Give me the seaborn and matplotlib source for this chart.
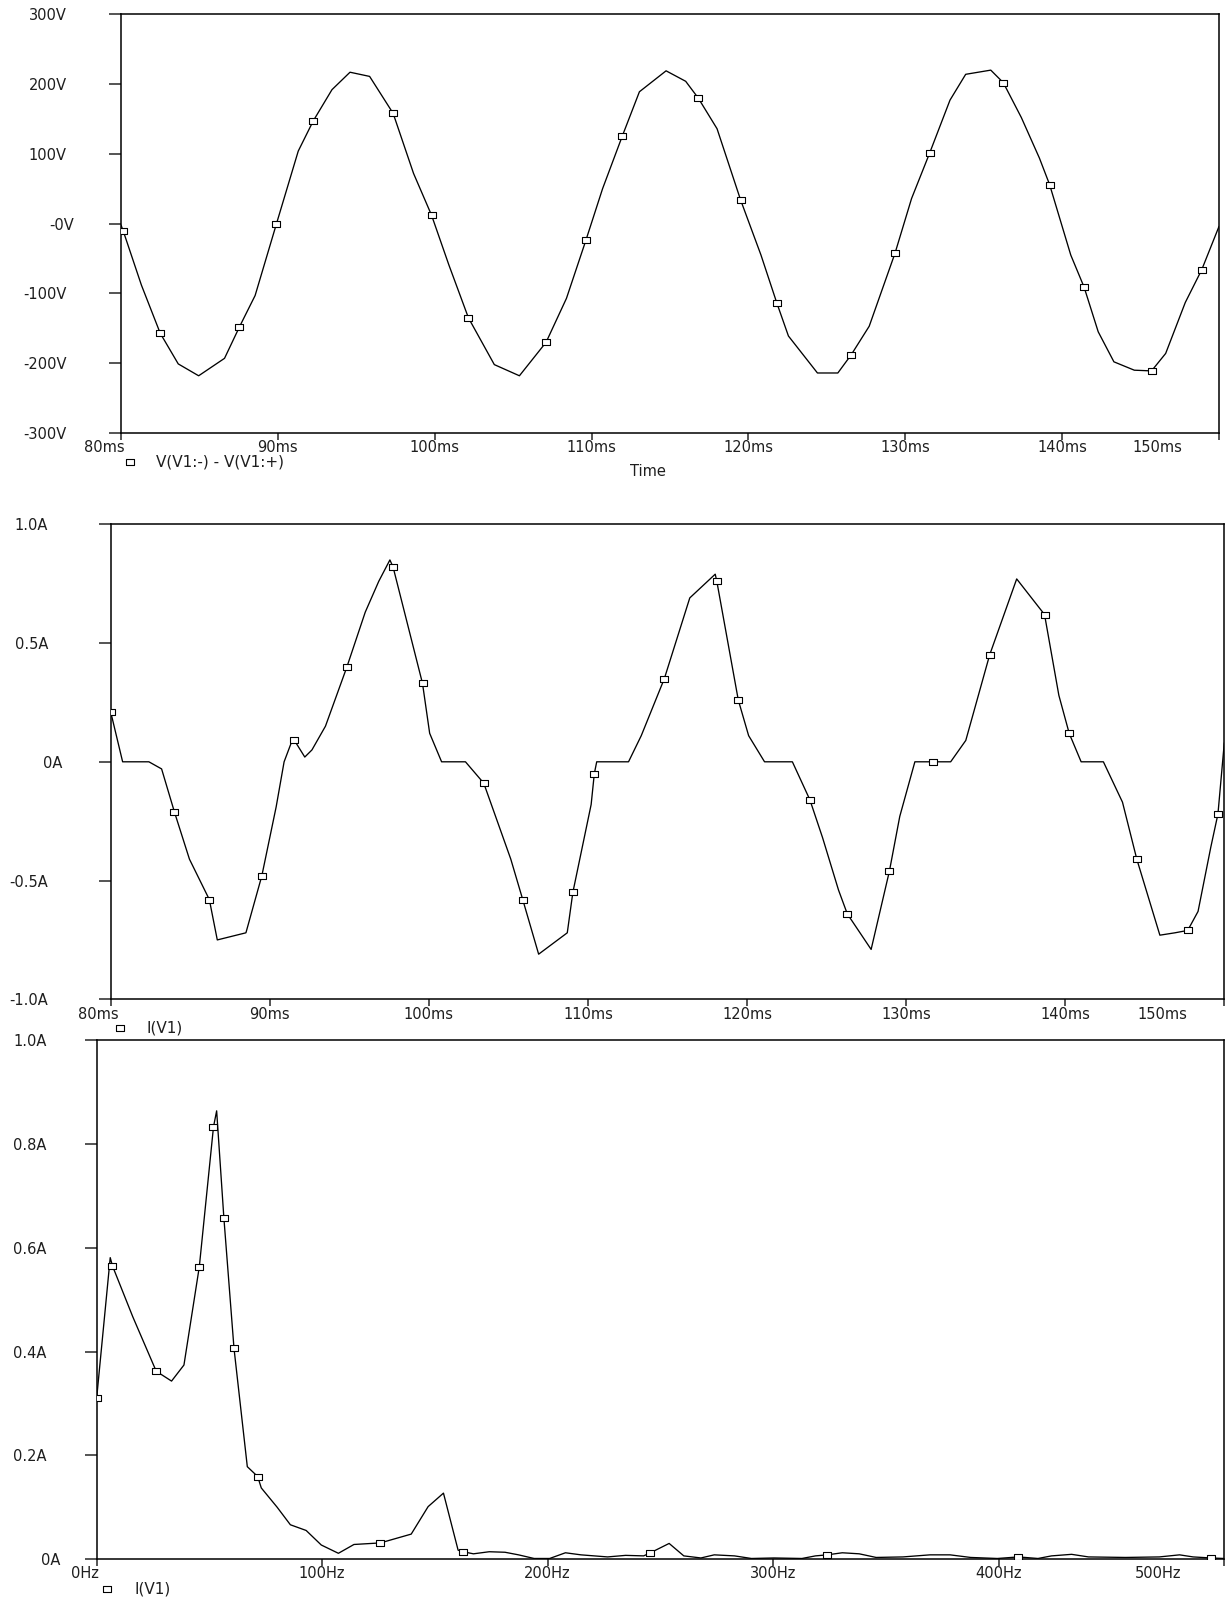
"""
PSpice-style transient and FFT traces for a single source V1:
source voltage, source current and the current spectrum.
"""

import matplotlib

matplotlib.use("Agg")
import matplotlib.pyplot as plt
import matplotlib.transforms as mtransforms
import pandas as pd
import seaborn as sns
from matplotlib.lines import Line2D

# --- V(V1:-) - V(V1:+) over time ---
volt_time_ms = [80.0, 80.15, 81.3, 82.5, 83.65, 84.95, 86.6, 87.55, 88.55, 89.9,
                91.3, 92.25, 93.45, 94.6, 95.85, 97.35, 98.65, 99.8, 100.9, 102.15,
                103.8, 105.4, 107.1, 108.4, 109.65, 110.7, 111.95, 113.05, 114.75, 116.0,
                116.8, 118.0, 119.5, 120.8, 121.8, 122.55, 124.4, 125.7, 126.55, 127.7,
                129.35, 130.4, 131.55, 132.85, 133.85, 135.45, 136.25, 137.4, 138.55, 139.2,
                140.55, 141.4, 142.3, 143.3, 144.6, 145.7, 146.6, 147.85, 148.9, 150.0]
volt_value_v = [-2, -11, -88, -157, -201, -218, -193, -148, -103, -1,
                104, 147, 192, 217, 211, 158, 72, 12, -59, -135,
                -202, -218, -170, -107, -23, 50, 125, 189, 219, 204,
                180, 136, 34, -45, -113, -161, -214, -214, -188, -147,
                -42, 36, 101, 177, 214, 220, 202, 152, 94, 56,
                -45, -91, -155, -198, -210, -211, -186, -113, -66, -4]
volt_marker_ms = [80.15, 82.5, 87.55, 89.9, 92.25, 97.35, 99.8, 102.15, 107.1, 109.65,
                  111.95, 116.8, 119.5, 121.8, 126.55, 129.35, 131.55, 136.25, 139.2,
                  141.4, 145.7, 148.9]

# --- I(V1) over time ---
curr_time_ms = [80.0, 80.75, 82.4, 83.2, 84.0, 84.95, 86.2, 86.7, 88.5, 89.5,
                90.4, 90.9, 91.35, 91.55, 92.2, 92.65, 93.5, 94.85, 96.0, 96.85,
                97.55, 97.75, 99.6, 100.05, 100.8, 102.3, 103.45, 105.15, 105.9, 106.9,
                108.7, 109.05, 110.2, 110.4, 110.55, 112.55, 113.35, 114.8, 116.4, 118.0,
                118.1, 119.45, 120.1, 121.1, 122.85, 123.95, 124.75, 125.75, 126.3, 127.8,
                128.95, 129.6, 130.55, 131.7, 132.8, 133.75, 135.25, 136.95, 138.7, 139.6,
                140.25, 141.0, 142.4, 143.6, 144.5, 145.95, 146.9, 147.7, 148.35, 149.15,
                149.6, 150.0]
curr_value_a = [0.21, 0.0, 0.0, -0.03, -0.21, -0.41, -0.58, -0.75, -0.72, -0.48,
                -0.19, 0.0, 0.08, 0.09, 0.02, 0.05, 0.15, 0.40, 0.63, 0.76,
                0.85, 0.82, 0.33, 0.12, 0.0, 0.0, -0.09, -0.41, -0.58, -0.81,
                -0.72, -0.55, -0.18, -0.05, 0.0, 0.0, 0.11, 0.35, 0.69, 0.79,
                0.76, 0.26, 0.11, 0.0, 0.0, -0.16, -0.32, -0.54, -0.64, -0.79,
                -0.46, -0.23, 0.0, 0.0, 0.0, 0.09, 0.45, 0.77, 0.62, 0.28,
                0.12, 0.0, 0.0, -0.17, -0.41, -0.73, -0.72, -0.71, -0.63, -0.36,
                -0.22, 0.08]
curr_marker_ms = [80.0, 84.0, 86.2, 89.5, 91.55, 94.85, 97.75, 99.6, 103.45, 105.9,
                  109.05, 110.4, 114.8, 118.1, 119.45, 123.95, 126.3, 128.95, 131.7,
                  135.25, 138.7, 140.25, 144.5, 147.7, 149.6]

# --- FFT of I(V1) ---
fft_freq_hz = [0.0, 6.0, 7.0, 16.0, 26.4, 33.2, 38.7, 45.5, 51.8, 53.2,
               56.4, 60.9, 66.8, 71.4, 73.0, 80.0, 85.9, 92.9, 99.6, 107.2,
               114.1, 125.8, 139.5, 147.0, 153.8, 160.3, 162.5, 167.1, 174.1, 181.1,
               187.1, 194.0, 200.9, 207.9, 214.8, 226.6, 234.6, 242.6, 245.6, 253.9,
               260.4, 268.0, 273.9, 282.9, 290.4, 300.4, 312.8, 318.8, 324.0, 330.7,
               338.2, 345.7, 357.6, 369.6, 378.5, 387.6, 399.5, 408.8, 417.5, 423.5,
               432.4, 439.9, 456.3, 471.3, 480.3, 486.3, 494.2, 500.0]
fft_mag_a = [0.311, 0.581, 0.565, 0.467, 0.362, 0.343, 0.374, 0.563, 0.833, 0.864,
             0.658, 0.406, 0.178, 0.159, 0.137, 0.100, 0.066, 0.055, 0.027, 0.011,
             0.028, 0.031, 0.048, 0.101, 0.127, 0.017, 0.014, 0.010, 0.014, 0.013,
             0.008, 0.001, 0.001, 0.012, 0.008, 0.004, 0.007, 0.006, 0.012, 0.030,
             0.006, 0.002, 0.008, 0.006, 0.001, 0.002, 0.001, 0.006, 0.008, 0.012,
             0.010, 0.003, 0.004, 0.008, 0.008, 0.003, 0.001, 0.004, 0.001, 0.006,
             0.009, 0.004, 0.003, 0.004, 0.008, 0.004, 0.002, 0.001]
fft_marker_hz = [0.0, 7.0, 26.4, 45.5, 51.8, 56.4, 60.9, 71.4, 125.8, 162.5,
                 245.6, 324.0, 408.8, 494.2]

# --- axis ticks ---
time_ticks = [80, 90, 100, 110, 120, 130, 140, 150]
time_ticklabels = ["80ms", "90ms", "100ms", "110ms", "120ms", "130ms", "140ms", "150ms"]
volt_ticks = [300, 200, 100, 0, -100, -200, -300]
volt_ticklabels = ["300V", "200V", "100V", "-0V", "-100V", "-200V", "-300V"]
curr_ticks = [1.0, 0.5, 0.0, -0.5, -1.0]
curr_ticklabels = ["1.0A", "0.5A", "0A", "-0.5A", "-1.0A"]
freq_ticks = [0, 100, 200, 300, 400, 500]
freq_ticklabels = ["0Hz", "100Hz", "200Hz", "300Hz", "400Hz", "500Hz"]
fft_ticks = [0.0, 0.2, 0.4, 0.6, 0.8, 1.0]
fft_ticklabels = ["0A", "0.2A", "0.4A", "0.6A", "0.8A", "1.0A"]

W, H, DPI = 1228, 1600, 100
INK = "#1e1e1e"
RECT = [(-1, -0.62), (1, -0.62), (1, 0.62), (-1, 0.62), (-1, -0.62)]

sns.set_style("ticks")
plt.rcParams["font.family"] = ["DejaVu Sans"]
plt.rcParams["axes.edgecolor"] = "black"
plt.rcParams["axes.linewidth"] = 1.1


def px_box(left, top, right, bottom):
    """Axes rectangle in figure fractions from pixel edges."""
    return [left / W, 1 - bottom / H, (right - left) / W, (bottom - top) / H]


def shift(label, dx=0, dy=0):
    """Move a text artist by a pixel offset."""
    off = mtransforms.ScaledTranslation(dx / DPI, dy / DPI, fig.dpi_scale_trans)
    label.set_transform(label.get_transform() + off)


def draw_trace(ax, x, y, marker_x):
    df = pd.DataFrame({"x": x, "y": y})
    sns.lineplot(data=df, x="x", y="y", ax=ax, color="black", lw=0.95,
                 estimator=None, sort=False)
    pts = df[df["x"].isin(marker_x)]
    ax.plot(pts["x"], pts["y"], ls="none", marker=RECT, ms=6, mfc="white",
            mec="black", mew=0.8, zorder=3)


def style_axis(ax, xlim, ylim, xt, xtl, yt, ytl, ypad):
    ax.set_xlim(*xlim)
    ax.set_ylim(*ylim)
    ax.set_xticks(xt, xtl)
    ax.set_yticks(yt, ytl)
    ax.set_xlabel("")
    ax.set_ylabel("")
    for s in ax.spines.values():
        s.set_visible(True)
        s.set_color("black")
    ax.tick_params(axis="x", direction="out", length=5.2, width=1.1, pad=0,
                   labelsize=10.5, labelcolor=INK)
    ax.tick_params(axis="y", direction="out", length=9, width=1.1, pad=ypad,
                   labelsize=10.5, labelcolor=INK)


def add_key(mx, my, tx, text):
    fig.add_artist(Line2D([mx / W], [1 - my / H], transform=fig.transFigure,
                          ls="none", marker=RECT, ms=6, mfc="white", mec="black",
                          mew=0.8))
    fig.text(tx / W, 1 - my / H, text, ha="left", va="center", fontsize=11,
             color=INK)


fig = plt.figure(figsize=(W / DPI, H / DPI), dpi=DPI)

ax1 = fig.add_axes(px_box(121, 14.3, 1219, 433))
draw_trace(ax1, volt_time_ms, volt_value_v, volt_marker_ms)
style_axis(ax1, (80, 150), (-300, 300), time_ticks, time_ticklabels,
           volt_ticks, volt_ticklabels, 30)

ax2 = fig.add_axes(px_box(110.7, 524.3, 1224.3, 999.3))
draw_trace(ax2, curr_time_ms, curr_value_a, curr_marker_ms)
style_axis(ax2, (80, 150), (-1.0, 1.0), time_ticks, time_ticklabels,
           curr_ticks, curr_ticklabels, 36)

ax3 = fig.add_axes(px_box(96.7, 1040.3, 1224, 1559))
draw_trace(ax3, fft_freq_hz, fft_mag_a, fft_marker_hz)
style_axis(ax3, (0, 500), (0, 1.0), freq_ticks, freq_ticklabels,
           fft_ticks, fft_ticklabels, 27)

# PSpice nudges the edge labels inwards and the zero labels to the right
for ax, first_dx, last_dx, zero_dx in [(ax1, -17, -62, 7), (ax2, -12, -62, 14),
                                       (ax3, -12, -66, 14)]:
    xl = ax.get_xticklabels()
    shift(xl[0], first_dx)
    shift(xl[-1], last_dx)
    for lab in ax.get_yticklabels():
        if lab.get_text() in ("-0V", "0A"):
            shift(lab, zero_dx)

add_key(130, 462, 156, "V(V1:-) - V(V1:+)")
fig.text(648 / W, 1 - 472 / H, "Time", ha="center", va="center", fontsize=10.5,
         color=INK)
add_key(120, 1028, 147, "I(V1)")
add_key(106.7, 1589, 134, "I(V1)")

fig.savefig("out.png", dpi=DPI)
plt.close(fig)
